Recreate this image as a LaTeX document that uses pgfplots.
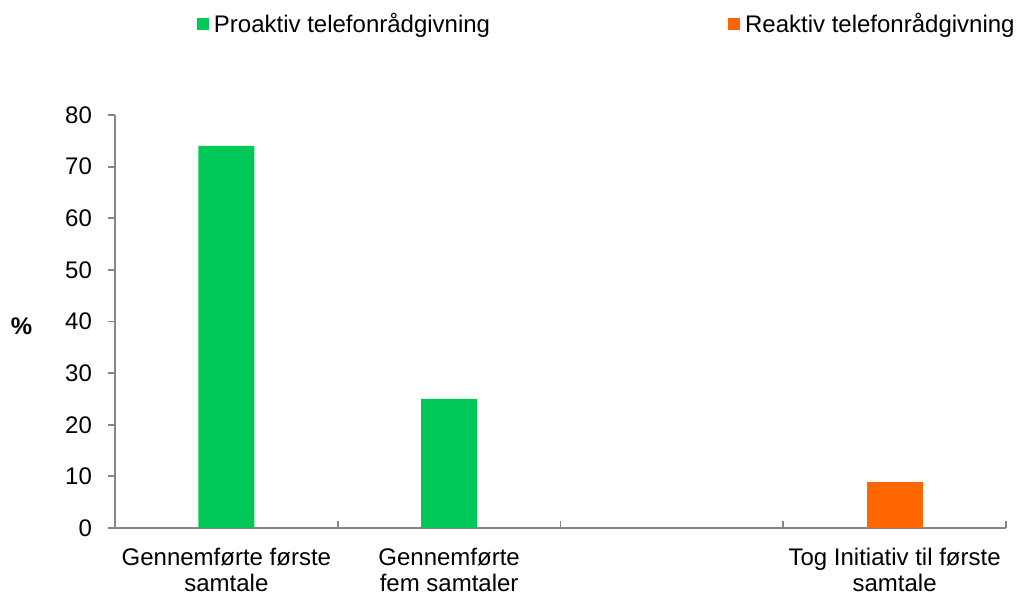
\documentclass[border=0pt]{standalone}
\usepackage{fontspec}
\setmainfont{Liberation Sans}
\usepackage{pgfplots}
\pgfplotsset{compat=1.18}

\definecolor{proaktiv}{RGB}{0,200,88}
\definecolor{reaktiv}{RGB}{255,102,0}
\definecolor{axisgray}{RGB}{134,134,134}

\begin{document}
\begin{tikzpicture}
\useasboundingbox (0,0) rectangle (511.5pt,299.5pt);
\begin{axis}[
  at={(57.5pt,35.5pt)}, anchor=south west,
  scale only axis, width=445.5pt, height=206.5pt,
  ybar, bar width=28pt,
  xmin=-0.5, xmax=3.5, ymin=0, ymax=80,
  axis x line*=bottom, axis y line*=left,
  axis line style={axisgray, line width=0.9pt},
  every tick/.style={axisgray, line width=0.9pt},
  major tick length=3.5pt,
  xtick={-0.5,0.5,1.5,2.5,3.5},
  x tick label as interval,
  xticklabels={{Gennemførte første\\samtale},{Gennemførte\\fem samtaler},{},{Tog Initiativ til første\\samtale}},
  xtick align=inside,
  ytick={0,10,...,80},
  ytick align=outside,
  tick label style={font=\fontsize{12}{13}\selectfont, text=black},
  xticklabel style={align=center, yshift=-6.5pt},
  yticklabel style={xshift=-4.5pt},
  /pgf/number format/assume math mode=true,
  every axis y label/.style={at={(axis description cs:-0.105,0.489)}, anchor=center},
  ylabel={\fontsize{12}{14}\selectfont\bfseries\%},
  legend columns=2,
  legend style={draw=none, fill=none, inner sep=0pt, outer sep=0pt,
    at={(axis description cs:0.092,1.2203)}, anchor=west,
    font=\fontsize{12}{14}\selectfont,
    nodes={inner sep=0pt},
    column sep=2.5pt,
    /tikz/every even column/.append style={column sep=119pt}},
  legend image code/.code={\fill[#1] (0pt,-3pt) rectangle (6pt,3pt);},
]
\addplot[fill=proaktiv, draw=none, bar shift=0pt] coordinates {(0,74) (1,25)};
\addlegendentry{Proaktiv telefonrådgivning}
\addplot[fill=reaktiv, draw=none, bar shift=0pt] coordinates {(3,9)};
\addlegendentry{Reaktiv telefonrådgivning}
\end{axis}
\end{tikzpicture}
\end{document}
